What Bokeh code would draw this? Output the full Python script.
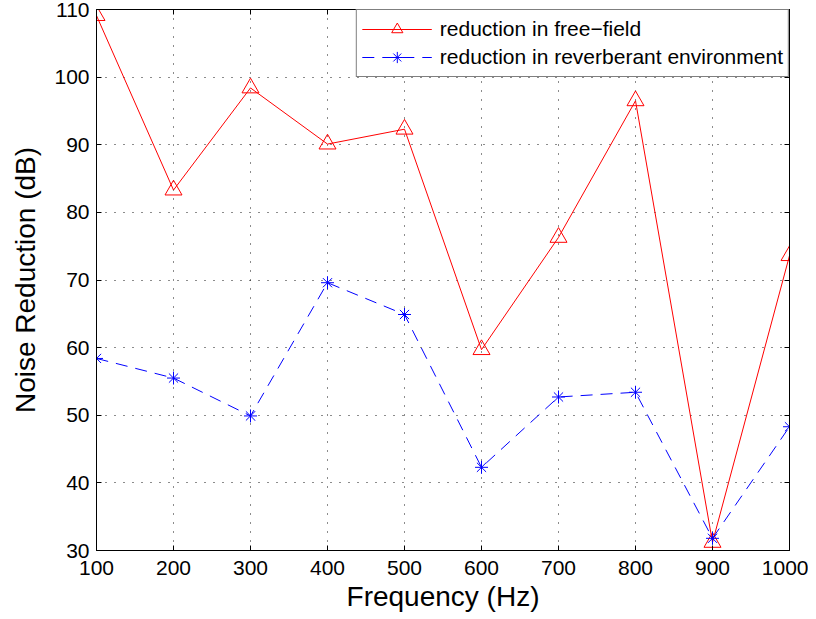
from bokeh.plotting import figure
from bokeh.models import LinearAxis, Range1d, FixedTicker, Legend, LegendItem
from bokeh.embed import file_html
from bokeh.resources import INLINE

freq = [100, 200, 300, 400, 500, 600, 700, 800, 900, 1000]
free_field = [109.1, 83.3, 98.4, 90.1, 92.3, 59.7, 76.3, 96.5, 31.2, 73.6]
reverberant = [58.4, 55.5, 49.9, 69.6, 64.9, 42.3, 52.7, 53.4, 31.8, 48.3]
x_ticks = [100, 200, 300, 400, 500, 600, 700, 800, 900, 1000]
y_ticks = [30, 40, 50, 60, 70, 80, 90, 100, 110]

FONT = "Liberation Sans"

p = figure(width=808, height=614, output_backend="svg", toolbar_location=None,
           x_range=Range1d(100, 1000), y_range=Range1d(30, 110),
           min_border_left=96, min_border_right=19, min_border_top=9, min_border_bottom=60)
p.background_fill_color = "white"
p.border_fill_color = "white"
p.outline_line_color = "black"
p.outline_line_width = 1

for ax in (p.xaxis[0], p.yaxis[0]):
    ax.major_tick_in = 5
    ax.major_tick_out = 0
    ax.minor_tick_in = 0
    ax.minor_tick_out = 0
    ax.major_label_text_font = FONT
    ax.major_label_text_font_size = "21px"
    ax.major_label_text_color = "black"
    ax.axis_label_text_font = FONT
    ax.axis_label_text_font_size = "28px"
    ax.axis_label_text_font_style = "normal"
    ax.axis_label_text_color = "black"
    ax.axis_line_color = "black"
    ax.major_tick_line_color = "black"

p.xaxis.ticker = FixedTicker(ticks=x_ticks)
p.yaxis.ticker = FixedTicker(ticks=y_ticks)
p.xaxis.axis_label = "Frequency (Hz)"
p.yaxis.axis_label = "Noise Reduction (dB)"
p.xaxis.major_label_standoff = 10
p.yaxis.major_label_standoff = 7
p.xaxis.axis_label_standoff = 3
p.yaxis.axis_label_standoff = 10

# mirrored axes with ticks only
top = LinearAxis(ticker=FixedTicker(ticks=x_ticks), major_tick_in=5, major_tick_out=0,
                 minor_tick_in=0, minor_tick_out=0,
                 major_label_overrides={t: "" for t in x_ticks},
                 major_label_standoff=0, axis_line_color="black")
right = LinearAxis(ticker=FixedTicker(ticks=y_ticks), major_tick_in=5, major_tick_out=0,
                   minor_tick_in=0, minor_tick_out=0,
                   major_label_overrides={t: "" for t in y_ticks},
                   major_label_standoff=0, axis_line_color="black")
p.add_layout(top, "above")
p.add_layout(right, "right")

p.xgrid.ticker = FixedTicker(ticks=x_ticks)
p.ygrid.ticker = FixedTicker(ticks=y_ticks)
p.grid.grid_line_color = "black"
p.grid.grid_line_dash = "1 8"
p.grid.grid_line_width = 1
p.grid.grid_line_alpha = 0.9

r1 = p.line(freq, free_field, line_color="red", line_width=1)
m1 = p.scatter(freq, free_field, marker="triangle", size=17, line_color="red",
               fill_color=None, line_width=1)
r2 = p.line(freq, reverberant, line_color="blue", line_width=1, line_dash="12 8")
m2 = p.scatter(freq, reverberant, marker="asterisk", size=13, line_color="blue",
               line_width=1)

legend = Legend(items=[LegendItem(label="reduction in free\u2212field", renderers=[r1, m1]),
                       LegendItem(label="reduction in reverberant environment", renderers=[r2, m2])],
                location="top_right")
legend.label_text_font = FONT
legend.label_text_font_size = "21px"
legend.label_text_color = "black"
legend.border_line_color = "black"
legend.border_line_width = 1
legend.background_fill_color = "white"
legend.background_fill_alpha = 1
legend.glyph_width = 70
legend.glyph_height = 28
legend.label_height = 28
legend.spacing = 0
legend.padding = 5
legend.margin = 0
legend.label_standoff = 8
p.add_layout(legend)

open("out.html", "w").write(file_html(p, INLINE))
